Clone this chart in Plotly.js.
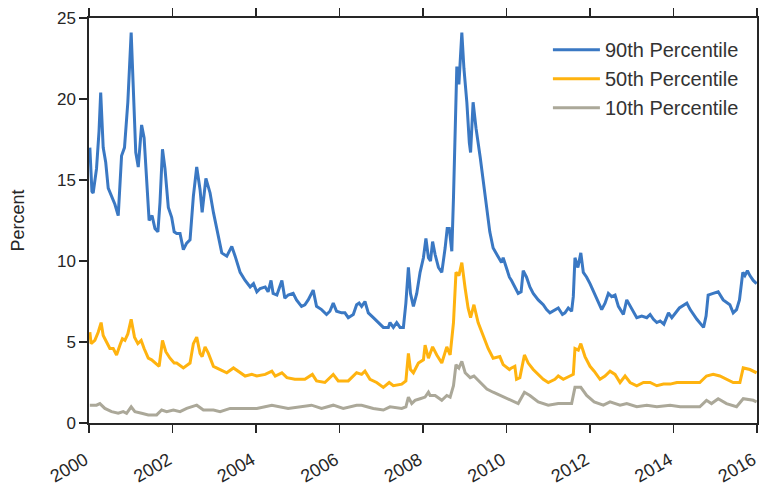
<!DOCTYPE html>
<html>
<head>
<meta charset="utf-8">
<script src="https://cdn.plot.ly/plotly-3.0.1.min.js"></script>
<style>html,body{margin:0;padding:0;background:#fff;}#chart{width:759px;height:489px;}</style>
</head>
<body>
<div id="chart"></div>
<script>
// Decimal-year positions and values (Percent)
var t90 = [2000.02,2000.07,2000.10,2000.18,2000.24,2000.28,2000.34,2000.40,2000.46,2000.54,2000.62,2000.70,2000.78,2000.85,2000.93,2001.01,2001.06,2001.12,2001.18,2001.26,2001.32,2001.38,2001.44,2001.51,2001.58,2001.65,2001.70,2001.76,2001.82,2001.90,2001.98,2002.04,2002.10,2002.18,2002.26,2002.34,2002.42,2002.50,2002.58,2002.66,2002.71,2002.80,2002.90,2002.98,2003.10,2003.18,2003.30,2003.42,2003.50,2003.62,2003.74,2003.86,2003.94,2004.02,2004.10,2004.22,2004.29,2004.36,2004.41,2004.50,2004.62,2004.69,2004.77,2004.89,2004.97,2005.09,2005.17,2005.25,2005.37,2005.45,2005.57,2005.69,2005.77,2005.85,2005.93,2006.05,2006.13,2006.21,2006.33,2006.41,2006.47,2006.53,2006.61,2006.69,2006.81,2006.93,2007.05,2007.17,2007.21,2007.29,2007.37,2007.45,2007.53,2007.59,2007.65,2007.70,2007.77,2007.85,2007.93,2008.01,2008.07,2008.13,2008.18,2008.23,2008.29,2008.37,2008.45,2008.53,2008.58,2008.63,2008.69,2008.73,2008.77,2008.81,2008.86,2008.93,2008.98,2009.05,2009.11,2009.14,2009.20,2009.27,2009.37,2009.44,2009.53,2009.60,2009.68,2009.80,2009.88,2009.92,2010.00,2010.07,2010.12,2010.20,2010.28,2010.35,2010.40,2010.48,2010.56,2010.64,2010.76,2010.88,2010.96,2011.04,2011.16,2011.24,2011.34,2011.40,2011.48,2011.56,2011.60,2011.64,2011.71,2011.78,2011.84,2011.92,2012.00,2012.10,2012.20,2012.28,2012.36,2012.44,2012.52,2012.60,2012.68,2012.80,2012.88,2012.96,2013.04,2013.12,2013.24,2013.36,2013.44,2013.52,2013.60,2013.68,2013.77,2013.88,2013.96,2014.04,2014.14,2014.32,2014.40,2014.56,2014.72,2014.78,2014.83,2014.95,2015.07,2015.19,2015.35,2015.43,2015.51,2015.58,2015.66,2015.71,2015.77,2015.83,2015.91,2015.99];
var p90 = [17.0,14.3,14.2,15.7,18.0,20.4,17.0,16.1,14.5,14.0,13.5,12.8,16.5,17.0,19.8,24.1,21.0,16.7,15.8,18.4,17.6,14.9,12.5,12.8,12.0,11.8,13.6,16.9,15.7,13.3,12.7,11.8,11.7,11.7,10.7,11.1,11.3,14.0,15.8,14.4,13.0,15.1,14.2,13.0,11.5,10.5,10.3,10.9,10.3,9.3,8.8,8.4,8.6,8.1,8.3,8.4,8.1,8.8,8.0,7.9,8.8,7.7,7.9,8.0,7.6,7.2,7.3,7.6,8.2,7.2,7.0,6.7,6.9,7.4,6.9,6.8,6.8,6.5,6.7,7.3,7.4,7.2,7.5,6.8,6.5,6.2,5.9,5.9,6.2,5.9,6.2,5.9,5.9,7.4,9.6,8.0,7.2,8.0,9.3,10.2,11.4,10.2,10.0,11.2,10.4,9.6,9.3,10.8,12.0,12.0,10.6,13.9,19.0,22.0,20.9,24.1,21.9,19.8,17.3,16.7,19.8,18.2,16.4,14.9,13.3,11.8,10.8,10.2,9.9,10.2,9.6,9.0,8.8,8.4,8.0,8.1,9.4,9.0,8.4,8.0,7.6,7.3,7.0,6.8,7.0,7.1,6.7,6.8,7.1,6.9,7.8,10.2,9.6,10.5,9.3,9.0,8.6,8.0,7.4,7.0,7.4,8.0,7.8,7.9,7.2,6.7,7.6,7.2,6.8,6.5,6.6,6.5,6.7,6.4,6.2,6.3,6.1,6.8,6.5,6.8,7.1,7.4,7.0,6.4,5.9,6.6,7.9,8.0,8.1,7.6,7.3,6.8,7.0,7.6,9.3,9.1,9.4,9.1,8.8,8.6];

var t50 = [2000.02,2000.05,2000.14,2000.22,2000.29,2000.34,2000.42,2000.50,2000.58,2000.66,2000.74,2000.80,2000.86,2000.93,2001.01,2001.09,2001.17,2001.25,2001.32,2001.42,2001.50,2001.62,2001.68,2001.76,2001.84,2001.94,2002.04,2002.10,2002.26,2002.42,2002.50,2002.58,2002.66,2002.71,2002.78,2002.86,2002.98,2003.14,2003.30,2003.46,2003.62,2003.74,2003.90,2004.02,2004.22,2004.38,2004.46,2004.62,2004.74,2004.93,2005.17,2005.35,2005.45,2005.65,2005.85,2005.97,2006.09,2006.21,2006.41,2006.53,2006.61,2006.73,2006.89,2007.05,2007.19,2007.29,2007.49,2007.59,2007.65,2007.70,2007.77,2007.89,2008.01,2008.05,2008.13,2008.23,2008.33,2008.45,2008.57,2008.65,2008.73,2008.79,2008.86,2008.93,2009.01,2009.08,2009.14,2009.22,2009.32,2009.44,2009.56,2009.68,2009.84,2009.92,2010.07,2010.12,2010.20,2010.24,2010.32,2010.43,2010.52,2010.64,2010.76,2010.88,2011.00,2011.16,2011.24,2011.36,2011.52,2011.60,2011.64,2011.72,2011.78,2011.88,2012.00,2012.10,2012.24,2012.36,2012.48,2012.60,2012.72,2012.84,2012.96,2013.12,2013.28,2013.44,2013.60,2013.76,2013.92,2014.08,2014.32,2014.63,2014.79,2014.95,2015.11,2015.27,2015.43,2015.59,2015.67,2015.83,2015.99];
var p50 = [5.6,4.9,5.1,5.6,6.2,5.4,5.0,4.6,4.6,4.2,4.8,5.2,5.1,5.5,6.4,5.3,4.9,5.1,4.6,4.0,3.9,3.6,3.5,5.1,4.4,4.0,3.7,3.7,3.4,3.7,4.9,5.3,4.3,4.1,4.7,4.3,3.5,3.3,3.1,3.4,3.1,2.9,3.0,2.9,3.0,3.2,2.9,3.1,2.8,2.7,2.7,3.0,2.6,2.5,3.0,2.6,2.6,2.6,3.1,3.0,3.2,2.7,2.5,2.2,2.5,2.3,2.4,2.6,4.3,3.3,3.1,3.7,3.9,4.8,4.0,4.7,4.2,3.7,4.7,4.2,6.2,9.3,9.1,9.9,8.3,7.1,6.5,7.3,6.2,5.4,4.6,4.0,4.1,3.6,3.3,3.4,3.5,2.7,2.8,4.2,3.7,3.3,3.0,2.7,2.5,2.7,2.9,2.7,2.9,3.0,4.6,4.5,4.9,4.1,3.5,3.2,2.7,2.9,3.2,3.0,2.5,2.9,2.5,2.3,2.5,2.5,2.3,2.4,2.4,2.5,2.5,2.5,2.9,3.0,2.9,2.7,2.5,2.5,3.4,3.3,3.1];

var t10 = [2000.02,2000.18,2000.26,2000.38,2000.54,2000.70,2000.82,2000.90,2001.01,2001.10,2001.26,2001.42,2001.62,2001.74,2001.86,2002.02,2002.18,2002.34,2002.58,2002.74,2002.98,2003.14,2003.38,2003.70,2004.02,2004.38,2004.77,2005.33,2005.57,2005.85,2006.09,2006.41,2006.53,2006.81,2007.05,2007.21,2007.49,2007.59,2007.65,2007.73,2007.81,2007.93,2008.05,2008.13,2008.17,2008.29,2008.45,2008.57,2008.65,2008.73,2008.79,2008.86,2008.93,2009.01,2009.13,2009.22,2009.37,2009.53,2009.68,2009.84,2010.00,2010.12,2010.28,2010.43,2010.56,2010.76,2011.00,2011.24,2011.56,2011.64,2011.78,2011.92,2012.10,2012.32,2012.48,2012.72,2012.88,2013.12,2013.36,2013.60,2013.92,2014.16,2014.63,2014.79,2014.91,2015.07,2015.27,2015.51,2015.67,2015.91,2015.99];
var p10 = [1.1,1.1,1.2,0.9,0.7,0.6,0.7,0.6,1.0,0.7,0.6,0.5,0.5,0.8,0.7,0.8,0.7,0.9,1.1,0.8,0.8,0.7,0.9,0.9,0.9,1.1,0.9,1.1,0.9,1.1,0.9,1.1,1.1,0.9,0.8,1.0,0.9,1.0,1.6,1.2,1.4,1.5,1.6,1.9,1.7,1.7,1.4,1.7,1.6,2.3,3.6,3.4,3.8,3.1,2.8,2.9,2.5,2.1,1.9,1.7,1.5,1.4,1.2,1.9,1.7,1.3,1.1,1.2,1.2,2.2,2.2,1.7,1.3,1.1,1.3,1.1,1.2,1.0,1.1,1.0,1.1,1.0,1.0,1.4,1.2,1.5,1.2,1.0,1.5,1.4,1.3];

var seriesNames = ['90th Percentile','50th Percentile','10th Percentile'];
var tickYears = [2000,2002,2004,2006,2008,2010,2012,2014,2016];
var tickLabels = ['2000','2002','2004','2006','2008','2010','2012','2014','2016'];
var yTicks = [0,5,10,15,20,25];

var colors = ['#3a78c3','#ffb30f','#aba899'];
var traces = [
  {x:t90, y:p90, name:seriesNames[0], legendgroup:'a', type:'scatter', mode:'lines', line:{color:colors[0], width:3}},
  {x:t50, y:p50, name:seriesNames[1], legendgroup:'b', type:'scatter', mode:'lines', line:{color:colors[1], width:3}},
  {x:t10, y:p10, name:seriesNames[2], legendgroup:'c', type:'scatter', mode:'lines', line:{color:colors[2], width:3}}
];
var axisCommon = {showgrid:false, zeroline:false, showline:true, linecolor:'#262626', linewidth:1.6,
  ticks:'outside', ticklen:8, tickwidth:1.6, tickcolor:'#262626', mirror:'ticks', ticklabeloverflow:'allow'};
var layout = {
  width:759, height:489,
  margin:{l:89, r:2, t:18, b:66},
  paper_bgcolor:'#fff', plot_bgcolor:'#fff',
  font:{family:'Liberation Sans, Arial, sans-serif', color:'#262626'},
  xaxis:Object.assign({}, axisCommon, {range:[1999.9999,2016.0001], tickmode:'array', tickvals:tickYears, ticktext:tickLabels,
    tickangle:-30, ticklabelstandoff:10, ticklabelshift:-4,
    tickfont:{family:'Liberation Sans, Arial, sans-serif', size:18, color:'#262626'}}),
  yaxis:Object.assign({}, axisCommon, {range:[0,25], tickmode:'array', tickvals:yTicks,
    tickfont:{family:'Liberation Sans, Arial, sans-serif', size:17, color:'#262626'},
    title:{text:'Percent', font:{size:18, color:'#262626'}, standoff:28}}),
  showlegend:true,
  legend:{x:0.687, xanchor:'left', y:0.97, yanchor:'top', bgcolor:'rgba(0,0,0,0)', borderwidth:0,
    font:{size:20, color:'#333'}, tracegroupgap:3, traceorder:'normal', itemwidth:47}
};
Plotly.newPlot('chart', traces, layout, {displayModeBar:false, staticPlot:true});
</script>
</body>
</html>
